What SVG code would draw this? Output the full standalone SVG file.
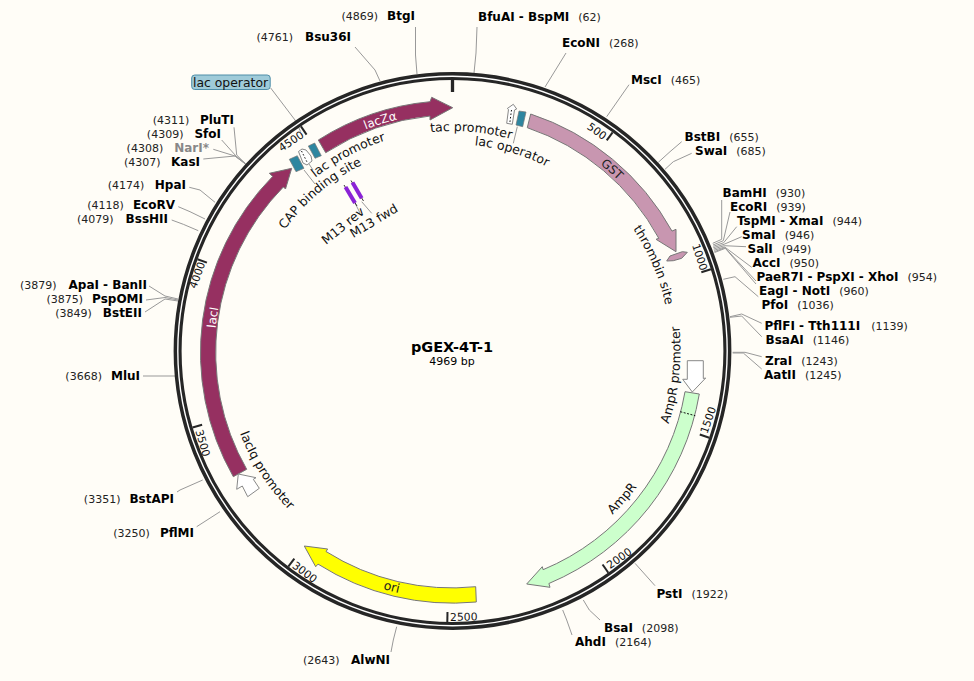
<svg xmlns="http://www.w3.org/2000/svg" xmlns:xlink="http://www.w3.org/1999/xlink" width="974" height="681" viewBox="0 0 974 681">
<style>
text{font-family:"DejaVu Sans","Liberation Sans",sans-serif;fill:#000}
.n{font-weight:700;font-size:12px}
.p{font-size:11px;fill:#222}
.f{font-size:12.5px;fill:#111}
.t{font-size:10.8px;fill:#111;text-anchor:middle}
.m{text-anchor:middle}
.e{text-anchor:end}
.c{fill:none;stroke:#999;stroke-width:1}
.tk{stroke:#262626;stroke-width:2}
.fe{stroke:#777;stroke-width:1}
.pr{fill:#fff;stroke:#888;stroke-width:1}
.dot{fill:none;stroke:#111;stroke-width:1;stroke-dasharray:1.5 2}
.teal{fill:#2e86a0;stroke:#777;stroke-width:.7}
</style>
<defs>
<path id="U220" d="M232.5 351A220 220 0 0 1 672.5 351"/>
<path id="U207" d="M245.5 351A207 207 0 0 1 659.5 351"/>
<path id="U221" d="M231.5 351A221 221 0 0 1 673.5 351"/>
<path id="U218" d="M234.5 351A218 218 0 0 1 670.5 351"/>
<path id="U238" d="M214.5 351A238 238 0 0 1 690.5 351"/>
<path id="L248" d="M204.5 351A248 248 0 0 0 700.5 351"/>
<path id="L229" d="M223.5 351A229 229 0 0 0 681.5 351"/>
<path id="L228" d="M224.5 351A228 228 0 0 0 680.5 351"/>
</defs>
<rect id="background" width="974" height="681" fill="#fffdf7"/>
<g id="connectors">
<polyline class="c" points="474,73 476,53 477,27"/>
<polyline class="c" points="417,74 415.5,55 415.5,27"/>
<polyline class="c" points="380,81 375,70 355,47"/>
<polyline class="c" points="545,87 566,53"/>
<polyline class="c" points="606.7,116.7 629,84.7"/>
<polyline class="c" points="658.3,162.3 670,151.7 681.7,141.7"/>
<polyline class="c" points="665,169.3 673.3,161.7 691.7,153.3"/>
<polyline class="c" points="712.7,243.3 721.7,239.3 721.7,200"/>
<polyline class="c" points="713,245 723.3,240.7 730,212"/>
<polyline class="c" points="713.3,246.3 723.7,242.7 736.7,226.7"/>
<polyline class="c" points="713.3,247.7 724,244.3 741.7,236.7"/>
<polyline class="c" points="713.7,249 724.3,245.7 746,246.7"/>
<polyline class="c" points="714,250.3 724.7,247 751.7,267.3"/>
<polyline class="c" points="714.3,251.7 725,247.7 756,281"/>
<polyline class="c" points="714.6,252.5 725.3,248.3 756,284"/>
<polyline class="c" points="723.3,279.3 735,276.7 758.3,296.7"/>
<polyline class="c" points="730,316.7 741.7,314 761.7,323.3"/>
<polyline class="c" points="730,317.3 741.7,316 761.7,336.7"/>
<polyline class="c" points="732.7,352.3 745,352.3 761.7,356.7"/>
<polyline class="c" points="732.7,353 743.3,353 761.7,369"/>
<polyline class="c" points="635,563.3 655,585.7"/>
<polyline class="c" points="583.3,600 589.3,610 600,620"/>
<polyline class="c" points="562.7,610 566.7,620 572,635"/>
<polyline class="c" points="396.7,626.7 393.3,640 391,652"/>
<polyline class="c" points="220,511.7 196.7,526.7"/>
<polyline class="c" points="202.7,480 180,490 177,492"/>
<polyline class="c" points="143,376 175,376"/>
<polyline class="c" points="149,286 165,296 178,299"/>
<polyline class="c" points="146,300 165,297.5 178,300"/>
<polyline class="c" points="145,312 165,299 178,301"/>
<polyline class="c" points="189.3,187.3 200,190 215,202.3"/>
<polyline class="c" points="178.3,206.7 190,211.7 205,219"/>
<polyline class="c" points="171.7,220 183.3,224.3 198.3,230.7"/>
<polyline class="c" points="234,127.3 236.7,155 245,163.3"/>
<polyline class="c" points="221.7,140 236,156 245.3,163.5"/>
<polyline class="c" points="213.3,149.3 235,156 245.6,164"/>
<polyline class="c" points="203.3,159 235,156 246,164.5"/>
<polyline class="c" points="270.7,88 295,120 300.7,131.7"/>
<polyline class="c" points="517.3,126.7 513.3,143.3"/>
<polyline class="c" points="304,170 315,184"/>
<polyline class="c" points="309,164 313,170"/>
<polyline class="c" points="361.7,201.7 371.7,213.3"/>
<polyline class="c" points="355,203 360,213"/>
</g>
<g id="backbone">
<circle cx="452.5" cy="351" r="274.9" fill="none" stroke="#262626" stroke-width="8"/>
<circle cx="452.5" cy="351" r="274.7" fill="none" stroke="#fff" stroke-width="1.4"/>
<line x1="452.5" y1="80" x2="452.5" y2="92" stroke="#262626" stroke-width="3.3"/>
<g transform="rotate(36.22 452.5 351)"><line class="tk" x1="452.5" y1="80" x2="452.5" y2="90"/></g>
<g transform="rotate(72.45 452.5 351)"><line class="tk" x1="452.5" y1="80" x2="452.5" y2="90"/></g>
<g transform="rotate(108.67 452.5 351)"><line class="tk" x1="452.5" y1="80" x2="452.5" y2="90"/></g>
<g transform="rotate(144.9 452.5 351)"><line class="tk" x1="452.5" y1="80" x2="452.5" y2="90"/></g>
<g transform="rotate(181.1 452.5 351)"><line class="tk" x1="452.5" y1="80" x2="452.5" y2="90"/></g>
<g transform="rotate(217.3 452.5 351)"><line class="tk" x1="452.5" y1="80" x2="452.5" y2="90"/></g>
<g transform="rotate(253.6 452.5 351)"><line class="tk" x1="452.5" y1="80" x2="452.5" y2="90"/></g>
<g transform="rotate(289.8 452.5 351)"><line class="tk" x1="452.5" y1="80" x2="452.5" y2="90"/></g>
<g transform="rotate(326 452.5 351)"><line class="tk" x1="452.5" y1="80" x2="452.5" y2="90"/></g>
<text class="t" y="4" transform="translate(597 131) rotate(36)">500</text>
<text class="t" y="4" transform="translate(700 257) rotate(72)">1000</text>
<text class="t" y="4" transform="translate(708 420) rotate(-71)">1500</text>
<text class="t" y="4" transform="translate(619 558) rotate(-35)">2000</text>
<text class="t" y="4" transform="translate(463.7 616.7) rotate(-1)">2500</text>
<text class="t" y="4" transform="translate(305 572) rotate(37)">3000</text>
<text class="t" y="4" transform="translate(203 443) rotate(73.6)">3500</text>
<text class="t" y="4" transform="translate(197 275) rotate(-70)">4000</text>
<text class="t" y="4" transform="translate(291 141) rotate(-34)">4500</text>
</g>
<g id="title">
<text class="m" x="452" y="352" font-size="14.5" font-weight="700">pGEX-4T-1</text>
<text class="m" x="452" y="365" font-size="11">4969 bp</text>
</g>
<g id="lacZa">
<path class="fe" fill="#963061" d="M318.3 140A251 251 0 0 1 430 101.7L431.7 97.3L452.7 107.7L430 120L430 116A236 236 0 0 0 325.7 152.7Z"/>
<text transform="rotate(-17.4 452.5 351)" font-size="12" style="fill:#fff"><textPath href="#U238" xlink:href="#U238" startOffset="50%" text-anchor="middle">lacZα</textPath></text>
</g>
<g id="GST">
<path class="fe" fill="#c896b0" d="M530.7 114A251 251 0 0 1 672 231.1L676 229.3L676 251.7L656 239.3L658.8 238.3A236 236 0 0 0 527.3 127.7Z"/>
<text transform="rotate(41.3 452.5 351)" font-size="12" style="fill:#222"><textPath href="#U238" xlink:href="#U238" startOffset="50%" text-anchor="middle">GST</textPath></text>
</g>
<g id="AmpR">
<path class="fe" fill="#ccffcc" d="M699.3 394A251 251 0 0 1 548.9 583.5L550 587.3L526.7 584L542.3 566.7L543.1 569.7A236 236 0 0 0 685 391.7Z"/>
<line x1="680.3" y1="411.7" x2="695.3" y2="415.7" stroke="#111" stroke-width="1" stroke-dasharray="2 1.5"/>
<text class="f" transform="rotate(-49 452.5 351)"><textPath href="#L229" xlink:href="#L229" startOffset="50%" text-anchor="middle">AmpR</textPath></text>
</g>
<g id="ori">
<path class="fe" fill="#ffff00" d="M475.7 586.7A236 236 0 0 1 326 551.5L327.7 549L304.3 546L315.7 566.7L318 564.1A251 251 0 0 0 476.3 602Z"/>
<text transform="rotate(14.4 452.5 351)" font-size="12.5" style="fill:#222"><textPath href="#L248" xlink:href="#L248" startOffset="50%" text-anchor="middle">ori</textPath></text>
</g>
<g id="lacI">
<path class="fe" fill="#963061" d="M246.7 469.3A236 236 0 0 1 283.4 186.9L285.5 189L291.7 168.3L269.3 173.3L272.7 176.4A251 251 0 0 0 233.3 476.7Z"/>
<text transform="rotate(-82 452.5 351)" font-size="12" style="fill:#fff"><textPath href="#U238" xlink:href="#U238" startOffset="50%" text-anchor="middle">lacI</textPath></text>
</g>
<g id="lacIq-promoter">
<polygon class="pr" points="238.3,474 256,477.7 253.3,479.3 259.3,488.3 247.7,496.7 242.3,486 236.7,489.3"/>
<text class="f" transform="rotate(57.3 452.5 351)"><textPath href="#L228" xlink:href="#L228" startOffset="50%" text-anchor="middle">lacIq promoter</textPath></text>
</g>
<g id="AmpR-promoter">
<polygon class="pr" points="687.3,360.7 703.3,360.7 703.3,378.5 705.7,378 692.3,392 682.7,379.3 687.3,379.3"/>
<text class="f" transform="rotate(-83.8 452.5 351)"><textPath href="#L228" xlink:href="#L228" startOffset="50%" text-anchor="middle">AmpR promoter</textPath></text>
</g>
<g id="thrombin-site">
<polygon class="fe" fill="#c896b0" points="666.7,261 670,256 682.3,251.7 687.3,252.3 681.7,258.3 673.3,260.7"/>
<text class="f" transform="rotate(66.9 452.5 351)"><textPath href="#U218" xlink:href="#U218" startOffset="50%" text-anchor="middle">thrombin site</textPath></text>
</g>
<g id="tac-promoter">
<polygon class="pr" points="513.3,104.3 516.7,109 514.5,110 512.3,124.3 506.7,123.3 508.5,109.5 507.3,108.5"/>
<line class="dot" x1="511.5" y1="110" x2="509.8" y2="123"/>
<text class="f" transform="rotate(4.85 452.5 351)"><textPath href="#U220" xlink:href="#U220" startOffset="50%" text-anchor="middle">tac promoter</textPath></text>
</g>
<g id="lac-operator-1">
<polygon class="teal" points="519,111 526,112 522.7,126.7 516,125"/>
<text class="f" transform="rotate(16.6 452.5 351)"><textPath href="#U207" xlink:href="#U207" startOffset="50%" text-anchor="middle">lac operator</textPath></text>
</g>
<g id="lac-promoter">
<polygon class="pr" points="298.5,151.5 302,149 306,150 311,156 312,161 307,165 303,163"/>
<line class="dot" x1="301.5" y1="151" x2="307.5" y2="163"/>
<text class="f" transform="rotate(-28 452.5 351)"><textPath href="#U221" xlink:href="#U221" startOffset="50%" text-anchor="middle">lac promoter</textPath></text>
</g>
<g id="lac-operator-2">
<polygon class="teal" points="308.3,146 314.7,143 321.3,155.7 315,158.3"/>
<rect x="191.7" y="75" width="78.5" height="14.5" rx="3" fill="#9fcbd9" stroke="#4f8ea8"/>
<text x="193" y="86.5" font-size="12.4" style="fill:#111">lac operator</text>
</g>
<g id="CAP-binding-site">
<polygon class="teal" points="289.3,159.3 297.3,155.7 304,168.3 296,171.7"/>
<text class="f" transform="rotate(-40 452.5 351)"><textPath href="#U207" xlink:href="#U207" startOffset="50%" text-anchor="middle">CAP binding site</textPath></text>
</g>
<g id="M13-rev">
<line x1="344" y1="185" x2="357" y2="206" stroke="#333" stroke-width="1"/>
<line x1="345.5" y1="187" x2="355" y2="203" stroke="#8a22d6" stroke-width="4"/>
<text class="f" transform="translate(326 245) rotate(-39)">M13 rev</text>
</g>
<g id="M13-fwd">
<line x1="351" y1="180.5" x2="363.5" y2="201" stroke="#333" stroke-width="1"/>
<line x1="352.5" y1="182.5" x2="361.7" y2="198.3" stroke="#8a22d6" stroke-width="4"/>
<text class="f" transform="translate(353.3 238.3) rotate(-31)">M13 fwd</text>
</g>
<g id="sites">
<g id="BfuAI-BspMI"><text x="478" y="21"><tspan class="n">BfuAI - BspMI</tspan><tspan class="p" dx="9">(62)</tspan></text></g>
<g id="EcoNI"><text x="562" y="47"><tspan class="n">EcoNI</tspan><tspan class="p" dx="9">(268)</tspan></text></g>
<g id="MscI"><text x="631" y="84"><tspan class="n">MscI</tspan><tspan class="p" dx="9">(465)</tspan></text></g>
<g id="BstBI"><text x="684.5" y="141"><tspan class="n">BstBI</tspan><tspan class="p" dx="9">(655)</tspan></text></g>
<g id="SwaI"><text x="695" y="155"><tspan class="n">SwaI</tspan><tspan class="p" dx="9">(685)</tspan></text></g>
<g id="BamHI"><text x="722.5" y="197"><tspan class="n">BamHI</tspan><tspan class="p" dx="9">(930)</tspan></text></g>
<g id="EcoRI"><text x="730" y="211"><tspan class="n">EcoRI</tspan><tspan class="p" dx="9">(939)</tspan></text></g>
<g id="TspMI-XmaI"><text x="737" y="225"><tspan class="n">TspMI - XmaI</tspan><tspan class="p" dx="9">(944)</tspan></text></g>
<g id="SmaI"><text x="742" y="239"><tspan class="n">SmaI</tspan><tspan class="p" dx="9">(946)</tspan></text></g>
<g id="SalI"><text x="747.5" y="253"><tspan class="n">SalI</tspan><tspan class="p" dx="9">(949)</tspan></text></g>
<g id="AccI"><text x="752.5" y="267"><tspan class="n">AccI</tspan><tspan class="p" dx="9">(950)</tspan></text></g>
<g id="PaeR7I-PspXI-XhoI"><text x="756.5" y="281"><tspan class="n">PaeR7I - PspXI - XhoI</tspan><tspan class="p" dx="9">(954)</tspan></text></g>
<g id="EagI-NotI"><text x="759" y="295"><tspan class="n">EagI - NotI</tspan><tspan class="p" dx="9">(960)</tspan></text></g>
<g id="PfoI"><text x="761.5" y="309"><tspan class="n">PfoI</tspan><tspan class="p" dx="9">(1036)</tspan></text></g>
<g id="PflFI-Tth111I"><text x="764.5" y="330"><tspan class="n">PflFI - Tth111I</tspan><tspan class="p" dx="11">(1139)</tspan></text></g>
<g id="BsaAI"><text x="765.5" y="344"><tspan class="n">BsaAI</tspan><tspan class="p" dx="9">(1146)</tspan></text></g>
<g id="ZraI"><text x="765" y="365"><tspan class="n">ZraI</tspan><tspan class="p" dx="9">(1243)</tspan></text></g>
<g id="AatII"><text x="764" y="379"><tspan class="n">AatII</tspan><tspan class="p" dx="9">(1245)</tspan></text></g>
<g id="PstI"><text x="656.5" y="598"><tspan class="n">PstI</tspan><tspan class="p" dx="9">(1922)</tspan></text></g>
<g id="BsaI"><text x="604" y="632"><tspan class="n">BsaI</tspan><tspan class="p" dx="9">(2098)</tspan></text></g>
<g id="AhdI"><text x="575" y="646"><tspan class="n">AhdI</tspan><tspan class="p" dx="9">(2164)</tspan></text></g>
<g id="BtgI"><text class="e" x="415" y="20"><tspan class="p">(4869)</tspan><tspan class="n" dx="9">BtgI</tspan></text></g>
<g id="Bsu36I"><text class="e" x="351" y="41"><tspan class="p">(4761)</tspan><tspan class="n" dx="12">Bsu36I</tspan></text></g>
<g id="PluTI"><text class="e" x="234" y="124"><tspan class="p">(4311)</tspan><tspan class="n" dx="10.5">PluTI</tspan></text></g>
<g id="SfoI"><text class="e" x="221" y="138"><tspan class="p">(4309)</tspan><tspan class="n" dx="11">SfoI</tspan></text></g>
<g id="NarI"><text class="e" x="209" y="152"><tspan class="p">(4308)</tspan><tspan class="n" dx="11" style="fill:#888">NarI*</tspan></text></g>
<g id="KasI"><text class="e" x="200" y="166"><tspan class="p">(4307)</tspan><tspan class="n" dx="10.5">KasI</tspan></text></g>
<g id="HpaI"><text class="e" x="186" y="189"><tspan class="p">(4174)</tspan><tspan class="n" dx="10.5">HpaI</tspan></text></g>
<g id="EcoRV"><text class="e" x="175" y="209"><tspan class="p">(4118)</tspan><tspan class="n" dx="9">EcoRV</tspan></text></g>
<g id="BssHII"><text class="e" x="168" y="223"><tspan class="p">(4079)</tspan><tspan class="n" dx="12">BssHII</tspan></text></g>
<g id="ApaI-BanII"><text class="e" x="147" y="289"><tspan class="p">(3879)</tspan><tspan class="n" dx="12">ApaI - BanII</tspan></text></g>
<g id="PspOMI"><text class="e" x="143" y="303"><tspan class="p">(3875)</tspan><tspan class="n" dx="9">PspOMI</tspan></text></g>
<g id="BstEII"><text class="e" x="142" y="317"><tspan class="p">(3849)</tspan><tspan class="n" dx="11">BstEII</tspan></text></g>
<g id="MluI"><text class="e" x="140" y="380"><tspan class="p">(3668)</tspan><tspan class="n" dx="9">MluI</tspan></text></g>
<g id="BstAPI"><text class="e" x="174" y="503"><tspan class="p">(3351)</tspan><tspan class="n" dx="9">BstAPI</tspan></text></g>
<g id="PflMI"><text class="e" x="194" y="537"><tspan class="p">(3250)</tspan><tspan class="n" dx="10">PflMI</tspan></text></g>
<g id="AlwNI"><text class="e" x="390" y="664"><tspan class="p">(2643)</tspan><tspan class="n" dx="11.5">AlwNI</tspan></text></g>
</g>
</svg>
